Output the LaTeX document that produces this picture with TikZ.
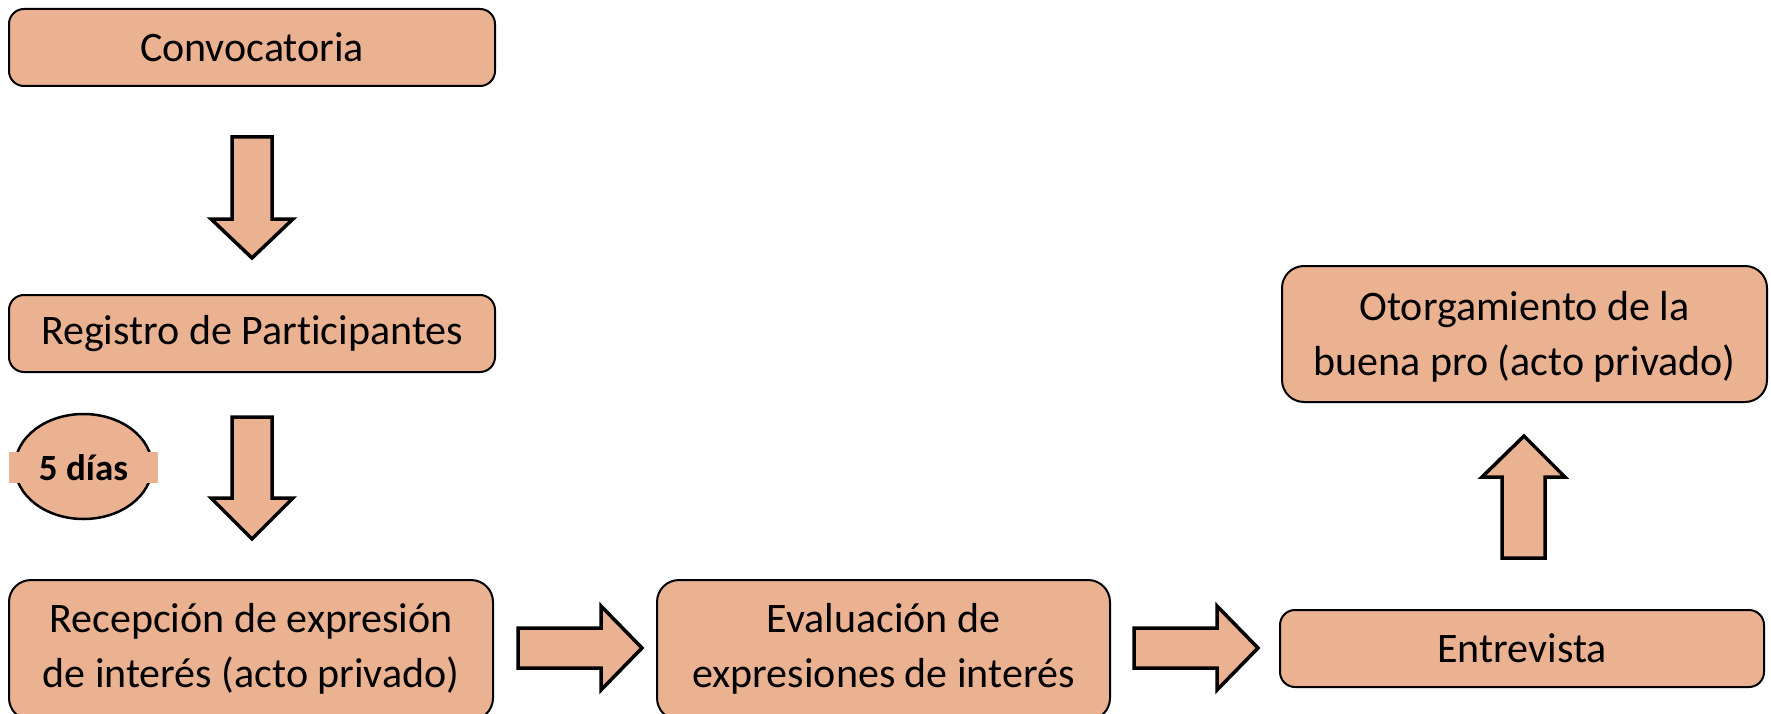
\documentclass[tikz,border=0pt]{standalone}
\usepackage{fontspec}
\setmainfont{Carlito}[Ligatures={NoCommon}]
\usetikzlibrary{shapes.geometric}
\definecolor{peach}{RGB}{235,178,146}
\tikzset{
  box/.style={draw=black, line width=2pt, fill=peach, rounded corners=18pt, align=center, inner sep=0pt,
    font=\fontsize{42}{50}\selectfont},
  boxtext/.style={align=center, inner sep=0pt, font=\fontsize{42}{50}\selectfont},
  blockarrow/.style={draw=black, line width=3.5pt, fill=peach, line join=miter},
}
\begin{document}
\begin{tikzpicture}[x=1pt,y=-1pt]
\useasboundingbox (0,0) rectangle (1771,714);
\begin{scope}
\clip (0,0) rectangle (1771,714);
\node[box, minimum width=486pt, minimum height=77pt, rounded corners=15pt] (conv) at (252,47.5) {Convocatoria};
\node[box, minimum width=486pt, minimum height=77pt, rounded corners=15pt] (reg) at (252,333.5) {Registro de Par\kern0pt ticipantes};
\node[box, minimum width=484pt, minimum height=140pt, rounded corners=22pt] (rec) at (251,650) {};
\node[boxtext] (rect) at (251,649) {Recepción de expresión\\[5pt]de interés (acto privado)};
\node[box, minimum width=453pt, minimum height=140pt, rounded corners=22pt] (eval) at (883.5,650) {};
\node[boxtext] (evalt) at (883.5,649) {Evaluación de\\[5pt]expresiones de interés};
\node[box, minimum width=484pt, minimum height=77pt, rounded corners=15pt] (entr) at (1522,648.5) {Entrevista};
\node[box, minimum width=485pt, minimum height=136pt, rounded corners=22pt] (otor) at (1524.5,334) {};
\node[boxtext] (otort) at (1524.5,337) {Otorgamiento de la\\[5pt]buena pro (acto privado)};
\node[draw=black, line width=2.5pt, fill=peach, ellipse, minimum width=137pt, minimum height=105pt, inner sep=0pt] (dias) at (83.5,466.5) {};
\node[fill=peach, minimum width=149pt, minimum height=31pt, inner sep=0pt, font=\fontsize{37}{40}\selectfont\bfseries] (diast) at (83.5,467.5) {5 días};
% block arrows
\draw[blockarrow] (232,137) -- (272,137) -- (272,219) -- (293,219) -- (252,258) -- (211,219) -- (232,219) -- cycle;
\draw[blockarrow] (232,417) -- (272,417) -- (272,498) -- (293,498) -- (252,539) -- (211,498) -- (232,498) -- cycle;
\draw[blockarrow] (518,628) -- (601,628) -- (601,606) -- (642,648) -- (601,690) -- (601,668) -- (518,668) -- cycle;
\draw[blockarrow] (1134,628) -- (1217,628) -- (1217,606) -- (1258,648) -- (1217,690) -- (1217,668) -- (1134,668) -- cycle;
\draw[blockarrow] (1502,558) -- (1502,477) -- (1482,477) -- (1524,436) -- (1565,477) -- (1545,477) -- (1545,558) -- cycle;
\end{scope}
\end{tikzpicture}
\end{document}
